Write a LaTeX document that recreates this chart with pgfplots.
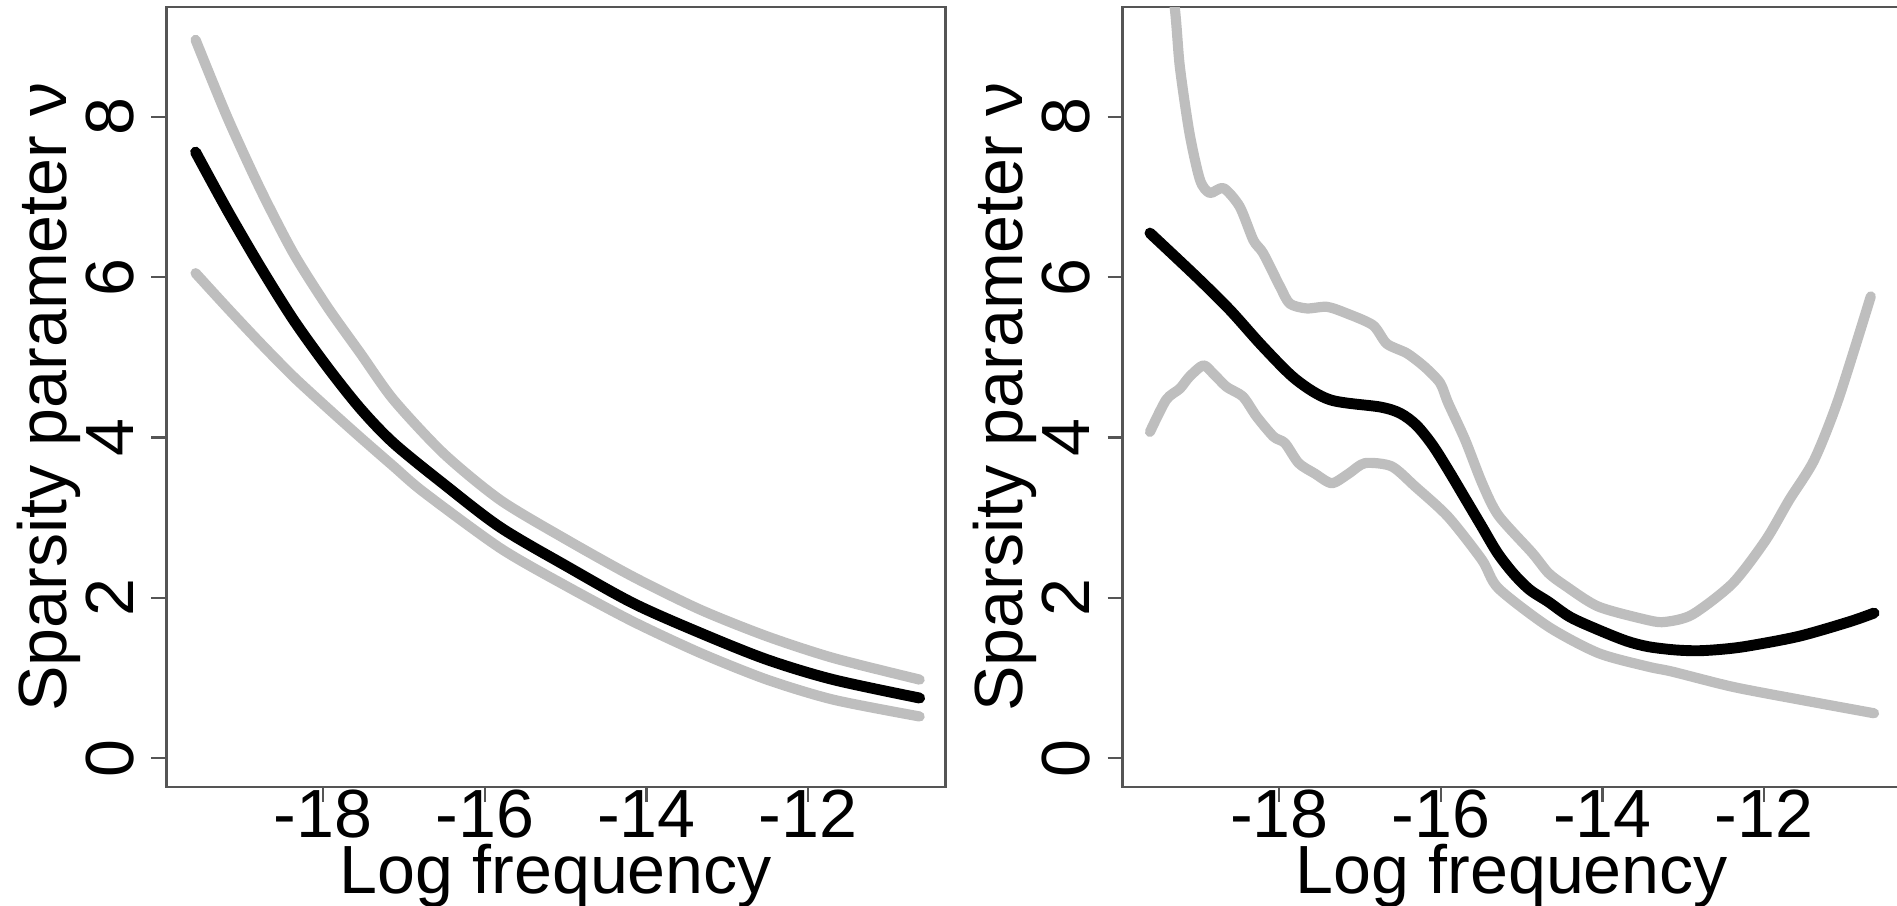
\documentclass[border=0pt]{standalone}
\usepackage{pgfplots}
\pgfplotsset{compat=1.18}
\usepackage{fontspec}
\setmainfont{Liberation Sans}

\definecolor{bandgray}{HTML}{BEBEBE}
\definecolor{framegray}{HTML}{555555}

% left panel: fitted curve and band
\pgfplotstableread{
x y
-19.58 7.56
-19.19 6.84
-18.78 6.13
-18.37 5.47
-17.95 4.88
-17.54 4.36
-17.13 3.93
-16.51 3.42
-15.81 2.88
-14.98 2.39
-14.16 1.93
-13.33 1.56
-12.51 1.23
-11.69 0.98
-10.62 0.75
}\leftfit
\pgfplotstableread{
x y
-19.58 8.96
-19.19 8.00
-18.78 7.10
-18.37 6.30
-17.95 5.63
-17.54 5.05
-17.13 4.47
-16.51 3.80
-15.81 3.22
-14.98 2.72
-14.16 2.26
-13.33 1.85
-12.51 1.52
-11.69 1.25
-10.62 0.98
}\leftup
\pgfplotstableread{
x y
-19.58 6.05
-19.19 5.62
-18.78 5.18
-18.37 4.76
-17.95 4.37
-17.54 4.00
-17.13 3.64
-16.76 3.32
-15.81 2.62
-14.98 2.14
-14.16 1.70
-13.33 1.31
-12.51 0.98
-11.69 0.73
-10.62 0.52
}\leftlow

% right panel
\pgfplotstableread{
x y
-19.60 6.55
-19.02 6.00
-18.61 5.59
-18.20 5.13
-17.79 4.72
-17.37 4.47
-16.75 4.38
-16.50 4.30
-16.30 4.15
-16.10 3.90
-15.90 3.58
-15.70 3.24
-15.50 2.90
-15.30 2.56
-15.10 2.30
-14.90 2.10
-14.67 1.95
-14.40 1.76
-14.05 1.60
-13.70 1.46
-13.43 1.39
-13.10 1.35
-12.81 1.34
-12.50 1.36
-12.19 1.40
-11.57 1.52
-10.95 1.70
-10.64 1.81
}\rightfit
\pgfplotstableread{
x y
-19.60 13.00
-19.45 10.80
-19.29 9.33
-19.23 8.62
-19.11 7.79
-18.98 7.21
-18.86 7.05
-18.69 7.11
-18.49 6.88
-18.32 6.46
-18.20 6.30
-17.99 5.88
-17.87 5.67
-17.66 5.61
-17.41 5.63
-17.17 5.55
-16.84 5.40
-16.67 5.17
-16.42 5.05
-16.20 4.88
-16.01 4.68
-15.91 4.43
-15.70 3.97
-15.49 3.43
-15.29 3.03
-14.87 2.56
-14.67 2.31
-14.46 2.15
-14.05 1.89
-13.43 1.72
-13.22 1.70
-12.89 1.79
-12.39 2.18
-11.98 2.72
-11.69 3.22
-11.38 3.72
-11.08 4.48
-10.68 5.76
}\rightup
\pgfplotstableread{
x y
-19.60 4.07
-19.40 4.47
-19.23 4.61
-19.11 4.76
-18.94 4.90
-18.82 4.80
-18.65 4.63
-18.45 4.51
-18.28 4.26
-18.07 4.01
-17.93 3.93
-17.76 3.68
-17.56 3.55
-17.35 3.43
-17.14 3.55
-16.94 3.68
-16.61 3.64
-16.32 3.39
-15.91 3.01
-15.49 2.47
-15.29 2.12
-14.67 1.64
-14.05 1.31
-13.43 1.14
-13.14 1.08
-12.39 0.89
-11.56 0.73
-10.64 0.56
}\rightlow

\pgfplotsset{
  panel/.style={
    scale only axis,
    width=7.79cm, height=7.80cm,
    xmin=-19.94, xmax=-10.30,
    ymin=-0.36, ymax=9.37,
    xtick={-18,-16,-14,-12},
    xticklabels={-18,-16,-14,-12},
    ytick={0,2,4,6,8},
    yticklabels={0,2,4,6,8},
    xtick pos=left, ytick pos=left,
    tick align=outside,
    major tick length=0.15cm,
    axis line style={framegray, line width=0.6pt},
    tick style={framegray, line width=0.6pt},
    font=\fontsize{19.4}{23}\selectfont,
    xticklabel style={anchor=base, inner sep=0pt, yshift=-0.35cm},
    yticklabel style={xshift=-0.18cm, rotate=90, anchor=base, inner sep=0pt},
    xlabel={Log frequency},
    ylabel={Sparsity parameter ν},
    xlabel style={at={(axis description cs:0.5,-0.136)}, anchor=base, inner sep=0pt},
    ylabel style={at={(axis description cs:-0.129,0.5)}, rotate=0, anchor=base, inner sep=0pt},
    band/.style={bandgray, line width=2.9pt, line cap=round, line join=round, smooth, tension=0.45},
    fit/.style={black, line width=3.1pt, line cap=round, line join=round, smooth},
  }
}

\begin{document}
\begin{tikzpicture}
\path[use as bounding box] (0,0) rectangle (18.97cm,9.05cm);

\begin{axis}[panel, at={(1.665cm,1.18cm)}, anchor=south west]
\addplot[band] table {\leftup};
\addplot[band] table {\leftlow};
\addplot[fit] table {\leftfit};
\end{axis}

\begin{axis}[panel, at={(11.225cm,1.18cm)}, anchor=south west]
\addplot[band] table {\rightup};
\addplot[band] table {\rightlow};
\addplot[fit] table {\rightfit};
\end{axis}
\end{tikzpicture}
\end{document}
